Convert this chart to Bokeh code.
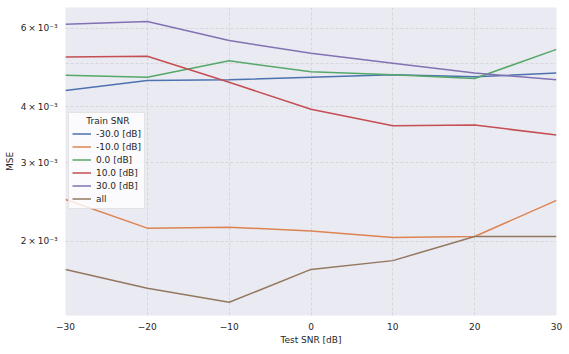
from bokeh.plotting import figure
from bokeh.models import FixedTicker, Legend, LegendItem, Range1d
from bokeh.embed import file_html
from bokeh.resources import INLINE

test_snr = [-30, -20, -10, 0, 10, 20, 30]
mse_m30 = [4.35e-3, 4.58e-3, 4.60e-3, 4.66e-3, 4.72e-3, 4.67e-3, 4.76e-3]
mse_m10 = [2.48e-3, 2.14e-3, 2.15e-3, 2.11e-3, 2.04e-3, 2.05e-3, 2.47e-3]
mse_0 = [4.71e-3, 4.66e-3, 5.07e-3, 4.79e-3, 4.72e-3, 4.63e-3, 5.38e-3]
mse_10 = [5.17e-3, 5.19e-3, 4.54e-3, 3.95e-3, 3.63e-3, 3.64e-3, 3.46e-3]
mse_30 = [6.12e-3, 6.21e-3, 5.63e-3, 5.27e-3, 5.01e-3, 4.76e-3, 4.60e-3]
mse_all = [1.73e-3, 1.57e-3, 1.46e-3, 1.73e-3, 1.81e-3, 2.05e-3, 2.05e-3]

series_labels = ["-30.0 [dB]", "-10.0 [dB]", "0.0 [dB]", "10.0 [dB]", "30.0 [dB]", "all"]
series_values = [mse_m30, mse_m10, mse_0, mse_10, mse_30, mse_all]
colors = ["#4C72B0", "#DD8452", "#55A868", "#C44E52", "#8172B3", "#937860"]

x_ticks = [-30, -20, -10, 0, 10, 20, 30]
x_tick_labels = ["\u221230", "\u221220", "\u221210", "0", "10", "20", "30"]
y_ticks = [2e-3, 3e-3, 4e-3, 5e-3, 6e-3]
y_tick_labels = ["2\u2009\u00d7\u200910\u207b\u00b3", "3\u2009\u00d7\u200910\u207b\u00b3",
                 "4\u2009\u00d7\u200910\u207b\u00b3", "", "6\u2009\u00d7\u200910\u207b\u00b3"]

FONT = "DejaVu Sans"
TXT = "#262626"

p = figure(width=569, height=354, y_axis_type="log", output_backend="svg",
           toolbar_location=None,
           x_range=Range1d(-30, 30), y_range=Range1d(1.364e-3, 6.675e-3),
           min_border_left=65, min_border_right=13, min_border_top=7, min_border_bottom=39)

p.background_fill_color = "#EAEAF2"
p.border_fill_color = "white"
p.outline_line_color = None

for ax in (p.xaxis[0], p.yaxis[0]):
    ax.axis_line_color = None
    ax.major_tick_line_color = None
    ax.minor_tick_line_color = None
    ax.major_tick_out = 0
    ax.major_tick_in = 0
    ax.minor_tick_out = 0
    ax.minor_tick_in = 0
    ax.major_label_text_font = FONT
    ax.major_label_text_font_size = "9px"
    ax.major_label_text_color = TXT
    ax.axis_label_text_font = FONT
    ax.axis_label_text_font_size = "9px"
    ax.axis_label_text_color = TXT
    ax.axis_label_text_font_style = "normal"

p.xaxis.ticker = FixedTicker(ticks=x_ticks)
p.xaxis.major_label_overrides = {t: l for t, l in zip(x_ticks, x_tick_labels)}
p.xaxis.axis_label = "Test SNR [dB]"
p.xaxis.major_label_standoff = 7
p.xaxis.axis_label_standoff = 2

p.yaxis.ticker = FixedTicker(ticks=y_ticks, minor_ticks=[])
p.yaxis.major_label_overrides = {t: l for t, l in zip(y_ticks, y_tick_labels)}
p.yaxis.axis_label = "MSE"
p.yaxis.major_label_standoff = 8
p.yaxis.axis_label_standoff = 3

for g in (p.xgrid[0], p.ygrid[0]):
    g.grid_line_color = "#d0d0d6"
    g.grid_line_dash = "3 2"
    g.grid_line_width = 0.8
p.ygrid.minor_grid_line_color = None

items = []
for lab, vals, c in zip(series_labels, series_values, colors):
    r = p.line(test_snr, vals, line_color=c, line_width=1.5)
    items.append(LegendItem(label=lab, renderers=[r]))

legend = Legend(items=items, location=(3, 106), title="\u00a0\u00a0\u00a0\u00a0\u00a0Train SNR",
                title_text_font=FONT, title_text_font_size="9px", title_text_font_style="normal",
                title_text_color=TXT, title_standoff=1,
                label_text_font=FONT, label_text_font_size="9px", label_text_color=TXT,
                label_height=13, glyph_height=13, glyph_width=19, label_standoff=5,
                spacing=0, padding=3, margin=0,
                background_fill_color="white", background_fill_alpha=0.8,
                border_line_color="#cccccc", border_line_width=1)
p.add_layout(legend, "center")

open("out.html", "w").write(file_html(p, INLINE))
